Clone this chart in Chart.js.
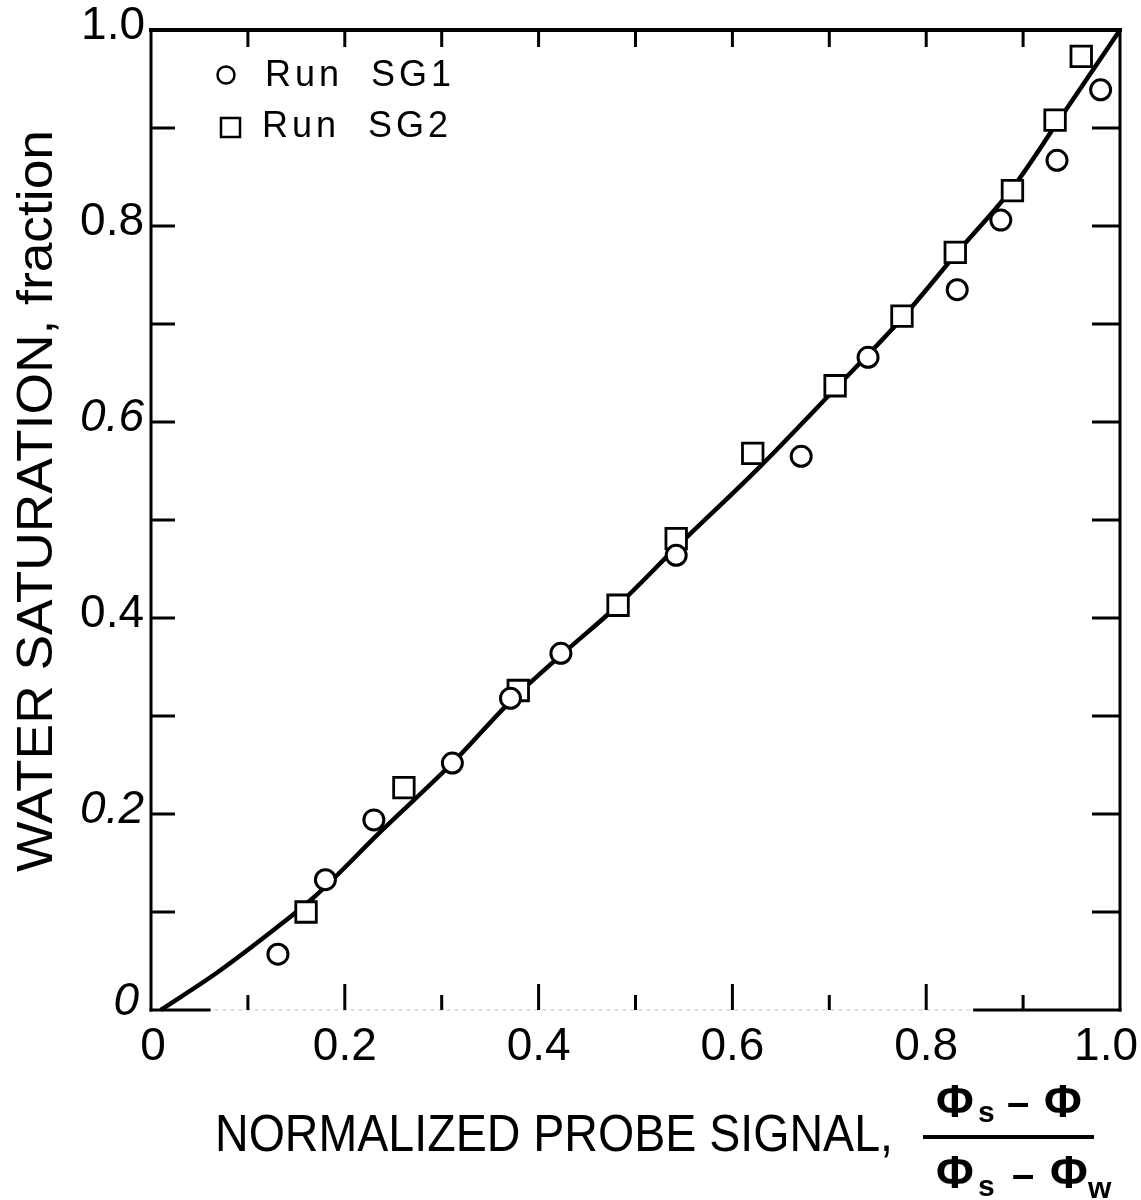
<!DOCTYPE html>
<html>
<head>
<meta charset="utf-8">
<script src="https://cdn.jsdelivr.net/npm/chart.js@4.4.0/dist/chart.umd.min.js"></script>
<style>
  html, body { margin: 0; padding: 0; background: #fff; }
  canvas { display: block; }
</style>
</head>
<body>
<canvas id="graficoSaturacao" width="1141" height="1200"></canvas>
<script>
// Run SG1 (circulos)
const sg1X = [0.131, 0.180, 0.230, 0.311, 0.371, 0.423, 0.542, 0.671, 0.740, 0.832, 0.877, 0.935, 0.980];
const sg1Y = [0.057, 0.133, 0.194, 0.252, 0.318, 0.364, 0.464, 0.565, 0.666, 0.735, 0.806, 0.867, 0.939];

// Run SG2 (quadrados)
const sg2X = [0.160, 0.261, 0.379, 0.482, 0.542, 0.621, 0.706, 0.775, 0.830, 0.889, 0.933, 0.960];
const sg2Y = [0.100, 0.227, 0.326, 0.413, 0.481, 0.568, 0.637, 0.708, 0.773, 0.836, 0.908, 0.973];

// curva de calibracao
const curvaX = [0.01, 0.068, 0.136, 0.167, 0.239, 0.311, 0.371, 0.423, 0.482, 0.542, 0.628, 0.708, 0.776, 0.832, 0.890, 0.935, 1.0];
const curvaY = [0, 0.038, 0.089, 0.114, 0.184, 0.252, 0.315, 0.362, 0.413, 0.472, 0.554, 0.636, 0.707, 0.773, 0.840, 0.905, 1.0];

const xTicks = [0, 0.2, 0.4, 0.6, 0.8, 1.0];
const xTickLabels = ['0', '0.2', '0.4', '0.6', '0.8', '1.0'];
const yTicks = [0, 0.2, 0.4, 0.6, 0.8, 1.0];
const yTickLabels = ['0', '0.2', '0.4', '0.6', '0.8', '1.0'];
const marcasMenores = [0.1, 0.2, 0.3, 0.4, 0.5, 0.6, 0.7, 0.8, 0.9];

const nomesSeries = ['Run  SG1', 'Run  SG2'];

const pontos = (xs, ys) => xs.map((x, i) => ({ x: x, y: ys[i] }));

const FONTE = '"Liberation Sans", Arial, sans-serif';

// texto esticado/comprimido para caber numa largura
function textoAjustado(ctx, texto, x, y, largura) {
    const w = ctx.measureText(texto).width;
    ctx.save();
    ctx.translate(x, y);
    ctx.scale(largura / w, 1);
    ctx.fillText(texto, 0, 0);
    ctx.restore();
}

const fundoBranco = {
    id: 'fundoBranco',
    beforeDraw(chart) {
        const ctx = chart.ctx;
        ctx.save();
        ctx.fillStyle = '#fff';
        ctx.fillRect(0, 0, chart.width, chart.height);
        ctx.restore();
    }
};

const moldura = {
    id: 'moldura',
    beforeDatasetsDraw(chart) {
        const { ctx, chartArea: a, scales: { x, y } } = chart;
        ctx.save();
        ctx.strokeStyle = '#000';
        ctx.lineCap = 'square';

        // esquerda, topo, direita
        ctx.lineWidth = 3;
        ctx.beginPath();
        ctx.moveTo(a.left, a.bottom);
        ctx.lineTo(a.left, a.top);
        ctx.stroke();
        ctx.lineWidth = 4;
        ctx.beginPath();
        ctx.moveTo(a.left, a.top);
        ctx.lineTo(a.right, a.top);
        ctx.stroke();
        ctx.lineWidth = 3;
        ctx.beginPath();
        ctx.moveTo(a.right, a.top);
        ctx.lineTo(a.right, a.bottom);
        ctx.stroke();

        // base: apagada no meio
        ctx.lineWidth = 1;
        ctx.strokeStyle = '#c4c4c4';
        ctx.setLineDash([3, 5]);
        ctx.beginPath();
        ctx.moveTo(a.left, a.bottom);
        ctx.lineTo(a.right, a.bottom);
        ctx.stroke();
        ctx.setLineDash([]);
        ctx.strokeStyle = '#000';
        ctx.lineWidth = 3;
        ctx.beginPath();
        ctx.moveTo(a.left, a.bottom);
        ctx.lineTo(x.getPixelForValue(0.06), a.bottom);
        ctx.moveTo(x.getPixelForValue(0.85), a.bottom);
        ctx.lineTo(a.right, a.bottom);
        ctx.stroke();

        ctx.lineCap = 'butt';
        ctx.lineWidth = 3;
        marcasMenores.forEach(v => {
            const px = x.getPixelForValue(v);
            const py = y.getPixelForValue(v);
            const maior = Math.abs(v * 5 - Math.round(v * 5)) < 1e-6;
            ctx.beginPath();
            // base (para cima)
            ctx.moveTo(px, a.bottom);
            ctx.lineTo(px, a.bottom - (maior ? 26 : 15));
            // topo (para baixo)
            ctx.moveTo(px, a.top);
            ctx.lineTo(px, a.top + 17);
            // esquerda
            ctx.moveTo(a.left, py);
            ctx.lineTo(a.left + 24, py);
            // direita
            ctx.moveTo(a.right, py);
            ctx.lineTo(a.right - 28, py);
            ctx.stroke();
        });
        ctx.restore();
    },
    afterDraw(chart) {
        const { ctx, chartArea: a, scales: { x, y } } = chart;
        ctx.save();
        ctx.fillStyle = '#000';

        // rotulos do eixo x
        ctx.font = '46px ' + FONTE;
        ctx.textBaseline = 'middle';
        xTicks.forEach((v, i) => {
            const ultimo = i === xTicks.length - 1;
            ctx.textAlign = ultimo ? 'right' : 'center';
            const px = ultimo ? chart.width - 3 : x.getPixelForValue(v) + (i === 0 ? 2 : 0);
            ctx.fillText(xTickLabels[i], px, a.bottom + 37);
        });

        // rotulos do eixo y (alguns em italico)
        ctx.textAlign = 'right';
        yTicks.forEach((v, i) => {
            const italico = v === 0 || v === 0.2 || v === 0.6;
            ctx.font = (italico ? 'italic ' : '') + '46px ' + FONTE;
            const dx = v === 0 ? 12 : (v === 1.0 ? 6 : 7);
            const dy = v === 0 ? -8 : -4;
            ctx.fillText(yTickLabels[i], a.left - dx, y.getPixelForValue(v) + dy);
        });

        // titulo do eixo y
        ctx.save();
        ctx.translate(52, 501);
        ctx.rotate(-Math.PI / 2);
        ctx.font = '50px ' + FONTE;
        ctx.textAlign = 'left';
        ctx.textBaseline = 'alphabetic';
        textoAjustado(ctx, 'WATER SATURATION, fraction', -371, 0, 742);
        ctx.restore();

        // titulo do eixo x com a fracao
        ctx.font = '52px ' + FONTE;
        ctx.textAlign = 'left';
        ctx.textBaseline = 'alphabetic';
        textoAjustado(ctx, 'NORMALIZED PROBE SIGNAL,', 215, 1151, 678);

        const fi = 'bold 46px ' + FONTE;
        const sub = 'bold 30px ' + FONTE;
        const menos = 'bold 40px ' + FONTE;
        ctx.font = fi;
        ctx.fillText('\u03A6', 936, 1117);
        ctx.font = sub;
        ctx.fillText('s', 978, 1122);
        ctx.font = menos;
        ctx.fillText('\u2013', 1007, 1116);
        ctx.font = fi;
        ctx.fillText('\u03A6', 1044, 1117);

        ctx.fillRect(923, 1135, 171, 4);

        ctx.font = fi;
        ctx.fillText('\u03A6', 936, 1188);
        ctx.font = sub;
        ctx.fillText('s', 978, 1196);
        ctx.font = menos;
        ctx.fillText('\u2013', 1012, 1188);
        ctx.font = fi;
        ctx.fillText('\u03A6', 1050, 1188);
        ctx.font = sub;
        ctx.fillText('w', 1088, 1198);

        // legenda
        const ds = chart.data.datasets;
        ctx.font = '36px ' + FONTE;
        ctx.letterSpacing = '4px';
        ctx.textBaseline = 'middle';
        ctx.strokeStyle = '#000';

        ctx.lineWidth = 2.5;
        ctx.beginPath();
        ctx.arc(a.left + 75, a.top + 45, 8.5, 0, Math.PI * 2);
        ctx.stroke();
        ctx.fillText(ds[0].label, a.left + 114, a.top + 46);

        ctx.lineWidth = 2.5;
        ctx.strokeRect(a.left + 70, a.top + 88, 19, 19);
        ctx.fillText(ds[1].label, a.left + 111, a.top + 97);

        ctx.restore();
    }
};

new Chart(document.getElementById('graficoSaturacao'), {
    type: 'scatter',
    data: {
        datasets: [
            {
                label: nomesSeries[0],
                data: pontos(sg1X, sg1Y),
                pointStyle: 'circle',
                pointRadius: 10,
                pointBorderWidth: 3,
                borderColor: '#000',
                backgroundColor: '#fff',
                order: 0,
                clip: false
            },
            {
                label: nomesSeries[1],
                data: pontos(sg2X, sg2Y),
                pointStyle: 'rect',
                pointRadius: 14.5,
                pointBorderWidth: 2.8,
                borderColor: '#000',
                backgroundColor: '#fff',
                order: 1,
                clip: false
            },
            {
                type: 'line',
                label: 'curva',
                data: pontos(curvaX, curvaY),
                borderColor: '#000',
                borderWidth: 4.5,
                pointRadius: 0,
                fill: false,
                cubicInterpolationMode: 'monotone',
                order: 2,
                clip: false
            }
        ]
    },
    options: {
        responsive: false,
        animation: false,
        layout: { padding: { left: 151, right: 21, top: 30, bottom: 190 } },
        plugins: {
            legend: { display: false },
            tooltip: { enabled: false }
        },
        scales: {
            x: { type: 'linear', min: 0, max: 1, display: false },
            y: { type: 'linear', min: 0, max: 1, display: false }
        }
    },
    plugins: [fundoBranco, moldura]
});
</script>
</body>
</html>
